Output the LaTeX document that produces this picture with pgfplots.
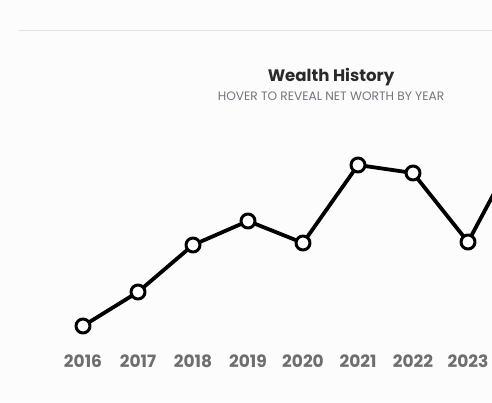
\documentclass[border=0pt]{standalone}
\usepackage{pgfplots}
\pgfplotsset{compat=1.18}
\usepackage{fontspec}
\setmainfont{Poppins}
\definecolor{bg}{HTML}{FCFCFC}
\definecolor{rule}{HTML}{E2E2E2}
\definecolor{ticktxt}{HTML}{6E6E6E}
\definecolor{subtxt}{HTML}{72767C}
\definecolor{titletxt}{HTML}{2A2A2A}
\begin{document}
\begin{tikzpicture}[x=1pt,y=1pt]
\useasboundingbox (0,0) rectangle (492,402);
\clip (0,0) rectangle (492,402);
\fill[bg] (0,0) rectangle (492,402);
\draw[rule, line width=1pt] (18,371) -- (492,371);
\node[font=\bfseries\fontsize{16.6}{20}\selectfont, text=titletxt, anchor=base] at (331,320) {Wealth History};
\node[font=\fontsize{12.2}{14}\selectfont, text=subtxt, anchor=base] at (331,301) {HOVER TO REVEAL NET WORTH BY YEAR};
\begin{axis}[
  at={(28pt,54pt)}, anchor=south west,
  scale only axis, width=464pt, height=220pt,
  xmin=2015, xmax=2023.436, ymin=0, ymax=220,
  axis line style={draw=none}, tick style={draw=none},
  ytick=\empty,
  xtick={2016,2017,2018,2019,2020,2021,2022,2023},
  xticklabels={2016,2017,2018,2019,2020,2021,2022,2023},
  xticklabel style={font=\bfseries\fontsize{17}{19}\selectfont, text=ticktxt, anchor=north, inner sep=0pt, yshift=-6.5pt},
  clip=true,
]
\addplot[black, line width=3.8pt, line join=round, mark=*, mark size=7pt,
  mark options={fill=white, draw=black, line width=3pt}]
  coordinates {(2016,22) (2017,56) (2018,103) (2019,127) (2020,105) (2021,183) (2022,175) (2023,106) (2024,209)};
\end{axis}
\end{tikzpicture}
\end{document}
